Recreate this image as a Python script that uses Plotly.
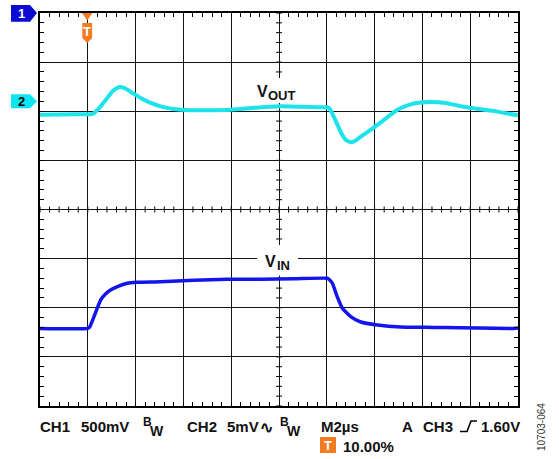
import plotly.graph_objects as go

# ---------------- data (time in µs from trigger, M = 2 µs/div; amplitude in screen divisions)
t_vout = [-2.0, -1.14, 0.0, 0.2, 0.45, 0.75, 1.04, 1.29, 1.54, 1.87, 2.21, 2.63, 3.05, 3.67,
          4.3, 4.93, 5.98, 7.02, 8.07, 8.9, 9.74, 10.08, 10.29, 10.45, 10.62, 10.79, 11.0,
          11.2, 11.41, 11.83, 12.38, 12.96, 13.5, 13.92, 14.34, 14.97, 15.72, 16.43, 17.06,
          17.48, 18.0]
v_vout = [1.93, 1.935, 1.94, 1.945, 2.05, 2.23, 2.41, 2.49, 2.47, 2.37, 2.27, 2.17, 2.10, 2.04,
          2.02, 2.02, 2.03, 2.07, 2.10, 2.09, 2.08, 2.07, 1.89, 1.72, 1.54, 1.42, 1.37,
          1.40, 1.48, 1.62, 1.82, 2.03, 2.14, 2.18, 2.19, 2.17, 2.09, 2.04, 2.00,
          1.96, 1.92]

t_vin = [-2.0, 0.0, 0.08, 0.26, 0.54, 0.74, 0.95, 1.29, 1.65, 2.07, 3.05, 4.43, 5.84, 7.23,
         8.62, 10.02, 10.09, 10.23, 10.44, 10.65, 11.0, 11.42, 12.12, 13.09, 14.47, 17.82, 18.0]
v_vin = [-2.42, -2.42, -2.39, -2.18, -1.84, -1.72, -1.64, -1.56, -1.50, -1.48, -1.47, -1.44,
         -1.42, -1.42, -1.41, -1.40, -1.42, -1.50, -1.78, -2.01, -2.18, -2.29, -2.35, -2.39,
         -2.40, -2.42, -2.41]

x_range = [-2, 18]
y_range = [-4, 4]

bottom_row = [("CH1", 39), ("500mV", 80), ("CH2", 186), ("5mV", 226), ("M2µs", 320),
              ("A", 401), ("CH3", 422), ("1.60V", 480)]

# ---------------- layout geometry
W, H = 559, 459
L, R, T, B = 40, 518, 13, 406


def px(x):
    return (x - L) / (R - L)


def py(y):
    return (B - y) / (B - T)


def path(points):
    return "M " + " L ".join(f"{px(a):.5f},{py(b):.5f}" for a, b in points) + " Z"


FONT = "Liberation Sans, Arial, sans-serif"
CYAN = "#1DE4EA"
BLUE = "#1414EE"
ORANGE = "#F47B20"

fig = go.Figure()
fig.add_trace(go.Scatter(x=t_vout, y=v_vout, mode="lines",
                         line=dict(color=CYAN, width=4, shape="spline", smoothing=0.6),
                         hoverinfo="skip", showlegend=False))
fig.add_trace(go.Scatter(x=t_vin, y=v_vin, mode="lines",
                         line=dict(color=BLUE, width=3.5, shape="spline", smoothing=0.5),
                         hoverinfo="skip", showlegend=False))

shapes = []
# center-line graticule ticks
for i in range(51):
    xv = -2 + 0.4 * i
    shapes.append(dict(type="line", xref="x", yref="y", x0=xv, x1=xv, ysizemode="pixel",
                       yanchor=0, y0=-3, y1=3, line=dict(color="black", width=1), layer="below"))
for i in range(41):
    yv = -4 + 0.2 * i
    shapes.append(dict(type="line", xref="x", yref="y", y0=yv, y1=yv, xsizemode="pixel",
                       xanchor=8, x0=-3, x1=3, line=dict(color="black", width=1), layer="below"))
# white label boxes (kept clear of the traces)
shapes.append(dict(type="rect", xref="paper", yref="paper", x0=px(255), x1=px(300),
                   y0=py(103), y1=py(78), fillcolor="white", line=dict(width=0), layer="above"))
shapes.append(dict(type="rect", xref="paper", yref="paper", x0=px(257), x1=px(298),
                   y0=py(275.5), y1=py(245), fillcolor="white", line=dict(width=0), layer="above"))
# channel markers
shapes.append(dict(type="path", xref="paper", yref="paper",
                   path=path([(11, 5), (30, 5), (37, 13), (30, 21.7), (11, 21.7)]),
                   fillcolor="#0A0AD2", line=dict(width=0), layer="above"))
shapes.append(dict(type="path", xref="paper", yref="paper",
                   path=path([(11, 94.3), (30, 94.3), (37, 101.3), (30, 108.3), (11, 108.3)]),
                   fillcolor="#0BE6F0", line=dict(width=0), layer="above"))
# trigger marker
shapes.append(dict(type="path", xref="paper", yref="paper",
                   path=path([(82, 13), (92.4, 13), (87.2, 20.5)]),
                   fillcolor=ORANGE, line=dict(width=0), layer="above"))
shapes.append(dict(type="path", xref="paper", yref="paper",
                   path=path([(82.3, 23), (92.1, 23), (92.1, 38), (87.2, 43), (82.3, 38)]),
                   fillcolor=ORANGE, line=dict(width=0), layer="above"))
# trigger box in status row
shapes.append(dict(type="rect", xref="paper", yref="paper", x0=px(320), x1=px(336),
                   y0=py(453), y1=py(437), fillcolor=ORANGE, line=dict(width=0)))
# rising edge symbol
shapes.append(dict(type="path", xref="paper", yref="paper",
                   path="M " + " L ".join(f"{px(a):.5f},{py(b):.5f}" for a, b in
                                          [(460, 431.5), (467, 431.5), (471, 421), (477, 421)]),
                   line=dict(color="black", width=1.6)))

ann = []


def text(s, x, y, size=15, color="#111", anchor="left", bold=True, angle=0):
    ann.append(dict(text=f"<b>{s}</b>" if bold else s, x=px(x), y=py(y), xref="paper",
                    yref="paper", xanchor=anchor, yanchor="middle", showarrow=False,
                    textangle=angle, borderpad=0,
                    font=dict(family=FONT, size=size, color=color)))


for s, x in bottom_row:
    text(s, x, 426)
text("B", 142, 422, size=12)
text("W", 149, 431, size=14)
text("∿", 259, 427, size=16)
text("B", 279, 422, size=12)
text("W", 286, 431, size=14)
text("T", 328, 445, size=13, color="white", anchor="center")
text("10.00%", 342, 446)
text("10703-064", 541, 427, size=10, color="#333", anchor="center", bold=False, angle=-90)
# labels
text("V", 256, 91, size=16)
text("OUT", 267, 96, size=13)
text("V", 263.5, 261, size=16)
text("IN", 275.5, 265.5, size=13)
# marker labels
text("1", 21, 13.5, size=13, color="white", anchor="center")
text("2", 21, 101.5, size=13, color="black", anchor="center")
text("T", 87.2, 31.5, size=13, color="white", anchor="center")

axis_common = dict(showticklabels=False, showgrid=True, gridcolor="#151515", gridwidth=1.3,
                   zeroline=False, showline=True, linecolor="black", linewidth=2,
                   mirror="allticks", ticks="inside", ticklen=4, tickcolor="black", tickwidth=1,
                   tick0=0, fixedrange=True)

fig.update_layout(
    width=W, height=H,
    margin=dict(l=L, r=W - R, t=T, b=H - B, pad=0),
    paper_bgcolor="white", plot_bgcolor="white",
    showlegend=False,
    xaxis=dict(range=x_range, dtick=2,
               minor=dict(dtick=0.4, ticks="inside", ticklen=4, tickcolor="black",
                          tickwidth=1, showgrid=False),
               **axis_common),
    yaxis=dict(range=y_range, dtick=1,
               minor=dict(dtick=0.2, ticks="inside", ticklen=4, tickcolor="black",
                          tickwidth=1, showgrid=False),
               **axis_common),
    shapes=shapes,
    annotations=ann,
)

fig.write_html("out.html", config={"displayModeBar": False},
               post_script="document.body.style.margin='0';document.body.style.overflow='hidden';")
